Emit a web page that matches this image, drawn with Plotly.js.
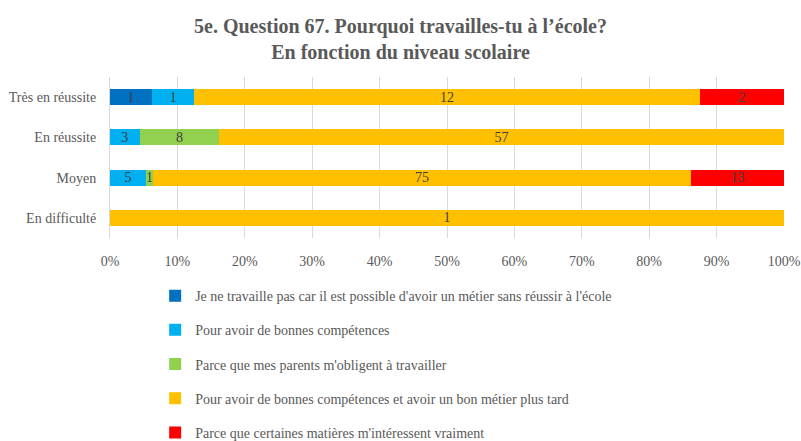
<!DOCTYPE html>
<html>
<head>
<meta charset="utf-8">
<script src="https://cdn.plot.ly/plotly-3.0.1.min.js"></script>
<style>html,body{margin:0;padding:0;background:#fff;}#chart{width:801px;height:441px;}</style>
</head>
<body>
<div id="chart"></div>
<script>
const categories = ["Très en réussite", "En réussite", "Moyen", "En difficulté"];
const seriesNames = [
  "Je ne travaille pas car il est possible d'avoir un métier sans réussir à l'école",
  "Pour avoir de bonnes compétences",
  "Parce que mes parents m'obligent à travailler",
  "Pour avoir de bonnes compétences et avoir un bon métier plus tard",
  "Parce que certaines matières m'intéressent vraiment"
];
const sMetierSans = [1, 0, 0, 0];
const sCompetences = [1, 3, 5, 0];
const sParents = [0, 8, 1, 0];
const sCompMetier = [12, 57, 75, 1];
const sMatieres = [2, 0, 13, 0];
const tickVals = [0, 10, 20, 30, 40, 50, 60, 70, 80, 90, 100];
const tickText = ["0%", "10%", "20%", "30%", "40%", "50%", "60%", "70%", "80%", "90%", "100%"];

const seriesValues = [sMetierSans, sCompetences, sParents, sCompMetier, sMatieres];
const colors = ["#0070C0", "#00B0F0", "#92D050", "#FFC000", "#FF0000"];

const traces = seriesValues.map((vals, i) => ({
  type: "bar",
  orientation: "h",
  name: seriesNames[i],
  y: categories,
  x: vals,
  marker: { color: colors[i] },
  text: vals.map(v => v === 0 ? "" : String(v)),
  textposition: "inside",
  insidetextanchor: "middle",
  textangle: 0,
  constraintext: "none",
  cliponaxis: false,
  textfont: { family: "Liberation Serif, serif", size: 14, color: "#404040" },
  hoverinfo: "name+x",
  legendgroup: "g" + i
}));

const layout = {
  width: 801,
  height: 441,
  paper_bgcolor: "#ffffff",
  plot_bgcolor: "#ffffff",
  barmode: "stack",
  barnorm: "percent",
  bargap: 0.6,
  margin: { l: 110, r: 17, t: 77, b: 203, autoexpand: false },
  title: {
    text: "<b>5e. Question 67. Pourquoi travailles-tu à l’école?<br>En fonction du niveau scolaire</b>",
    font: { family: "Liberation Serif, serif", size: 20, color: "#595959" },
    x: 0.5,
    xanchor: "center",
    yref: "container",
    y: 0.925,
    yanchor: "middle"
  },
  xaxis: {
    range: [0, 100],
    tickmode: "array",
    tickvals: tickVals,
    ticktext: tickText,
    showgrid: true,
    gridcolor: "#D9D9D9",
    gridwidth: 1,
    zeroline: false,
    showline: false,
    ticks: "outside",
    ticklen: 10,
    tickcolor: "rgba(0,0,0,0)",
    tickfont: { family: "Liberation Serif, serif", size: 14, color: "#595959" },
    automargin: false,
    fixedrange: true
  },
  yaxis: {
    type: "category",
    categoryorder: "array",
    categoryarray: categories,
    autorange: "reversed",
    showgrid: false,
    zeroline: false,
    showline: true,
    linecolor: "#D9D9D9",
    linewidth: 1,
    ticks: "outside",
    ticklen: 10,
    tickcolor: "rgba(0,0,0,0)",
    tickfont: { family: "Liberation Serif, serif", size: 14, color: "#595959" },
    automargin: false,
    fixedrange: true
  },
  legend: {
    orientation: "v",
    x: 0.067,
    xanchor: "left",
    yref: "container",
    y: 0.365,
    yanchor: "top",
    traceorder: "grouped",
    tracegroupgap: 13,
    font: { family: "Liberation Serif, serif", size: 14, color: "#595959" },
    bgcolor: "rgba(0,0,0,0)"
  },
  showlegend: true
};

Plotly.newPlot("chart", traces, layout, { displayModeBar: false });
</script>
</body>
</html>
